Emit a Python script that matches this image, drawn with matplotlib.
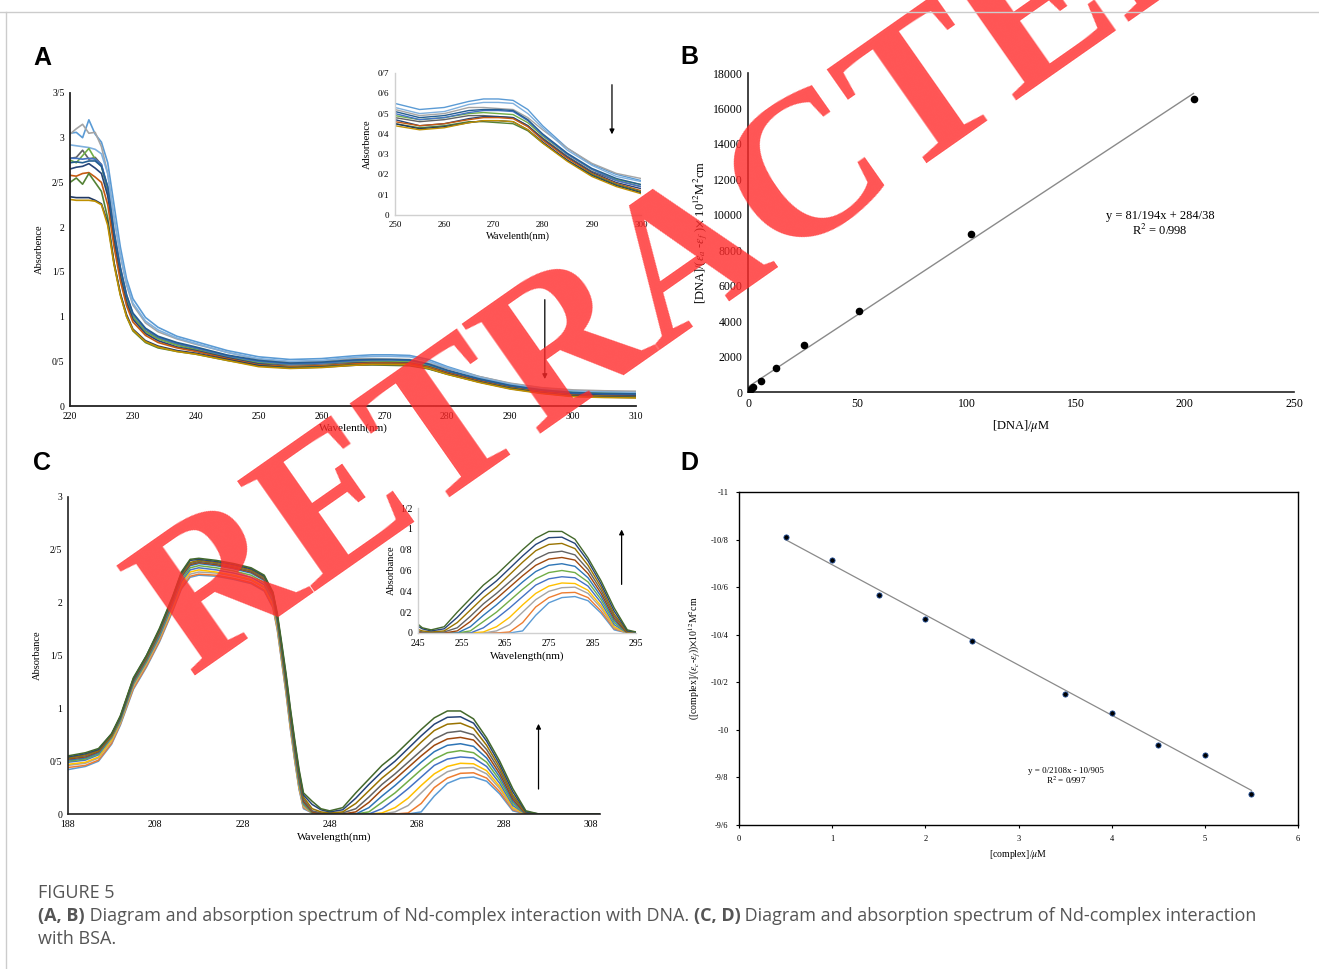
import numpy as np
import matplotlib
matplotlib.use("Agg")
import matplotlib.pyplot as plt
from matplotlib.ticker import FuncFormatter, MultipleLocator, FixedLocator
from matplotlib.lines import Line2D

plt.rcParams['font.family'] = ['Liberation Serif', 'DejaVu Serif']
plt.rcParams['mathtext.fontset'] = 'stix'

W, H = 1319, 969

# ---------------- data ----------------
# panel A: absorption spectra (DNA titration), 12 curves
wl_a = [220, 221, 222, 223, 224, 225, 226, 227, 228, 229, 230, 232, 234, 237, 240, 245,
        250, 255, 260, 265, 268, 271, 274, 277, 280, 285, 290, 295, 300, 305, 310]
colors_a = ['#5B9BD5', '#A5A5A5', '#7FB0DE', '#636363', '#70AD47', '#4472C4',
            '#264478', '#C55A11', '#548235', '#203864', '#BF9000', '#255E91']
abs_a = [
    [3.05, 3.06, 3.00, 3.20, 3.04, 2.95, 2.72, 2.25, 1.78, 1.42, 1.20, 0.99, 0.88, 0.78, 0.72, 0.62,
     0.55, 0.52, 0.53, 0.56, 0.572, 0.572, 0.565, 0.52, 0.44, 0.33, 0.25, 0.20, 0.17, 0.16, 0.155],
    [3.04, 3.10, 3.15, 3.05, 3.06, 2.90, 2.60, 2.10, 1.68, 1.35, 1.13, 0.93, 0.83, 0.75, 0.69, 0.60,
     0.52, 0.49, 0.50, 0.53, 0.53, 0.525, 0.52, 0.48, 0.42, 0.33, 0.255, 0.205, 0.18, 0.17, 0.165],
    [2.92, 2.91, 2.90, 2.89, 2.87, 2.82, 2.60, 2.12, 1.70, 1.37, 1.15, 0.95, 0.85, 0.76, 0.70, 0.60,
     0.53, 0.50, 0.51, 0.545, 0.555, 0.555, 0.55, 0.50, 0.43, 0.32, 0.245, 0.19, 0.165, 0.155, 0.15],
    [2.77, 2.78, 2.86, 2.76, 2.78, 2.70, 2.40, 1.90, 1.50, 1.20, 1.00, 0.84, 0.76, 0.69, 0.64, 0.56,
     0.48, 0.46, 0.47, 0.49, 0.49, 0.485, 0.48, 0.44, 0.38, 0.29, 0.215, 0.17, 0.14, 0.13, 0.125],
    [2.75, 2.72, 2.80, 2.88, 2.76, 2.68, 2.42, 1.90, 1.50, 1.20, 1.00, 0.83, 0.75, 0.68, 0.63, 0.55,
     0.49, 0.47, 0.48, 0.50, 0.505, 0.50, 0.495, 0.455, 0.39, 0.30, 0.225, 0.175, 0.15, 0.14, 0.135],
    [2.77, 2.77, 2.76, 2.77, 2.76, 2.70, 2.45, 1.95, 1.55, 1.24, 1.03, 0.86, 0.77, 0.70, 0.65, 0.56,
     0.50, 0.47, 0.48, 0.505, 0.515, 0.515, 0.51, 0.465, 0.395, 0.30, 0.225, 0.17, 0.14, 0.13, 0.125],
    [2.65, 2.67, 2.68, 2.71, 2.66, 2.60, 2.35, 1.85, 1.45, 1.16, 0.97, 0.81, 0.73, 0.66, 0.62, 0.54,
     0.47, 0.44, 0.45, 0.475, 0.485, 0.485, 0.48, 0.44, 0.375, 0.285, 0.21, 0.16, 0.13, 0.12, 0.115],
    [2.58, 2.57, 2.60, 2.61, 2.56, 2.50, 2.25, 1.78, 1.40, 1.12, 0.94, 0.79, 0.71, 0.65, 0.61, 0.53,
     0.46, 0.44, 0.45, 0.47, 0.48, 0.48, 0.475, 0.435, 0.37, 0.28, 0.205, 0.155, 0.12, 0.11, 0.105],
    [2.50, 2.55, 2.48, 2.60, 2.50, 2.40, 2.10, 1.60, 1.25, 1.00, 0.84, 0.71, 0.65, 0.61, 0.58, 0.51,
     0.45, 0.43, 0.44, 0.46, 0.46, 0.455, 0.45, 0.415, 0.355, 0.27, 0.20, 0.15, 0.115, 0.105, 0.10],
    [2.34, 2.33, 2.33, 2.33, 2.30, 2.26, 2.05, 1.60, 1.26, 1.02, 0.86, 0.73, 0.67, 0.62, 0.59, 0.52,
     0.45, 0.425, 0.435, 0.455, 0.465, 0.465, 0.46, 0.42, 0.36, 0.27, 0.195, 0.145, 0.11, 0.10, 0.095],
    [2.31, 2.30, 2.30, 2.30, 2.29, 2.25, 2.02, 1.58, 1.24, 1.00, 0.85, 0.72, 0.66, 0.61, 0.58, 0.51,
     0.44, 0.42, 0.43, 0.455, 0.465, 0.465, 0.46, 0.42, 0.355, 0.265, 0.19, 0.14, 0.105, 0.095, 0.09],
    [2.72, 2.73, 2.72, 2.74, 2.74, 2.68, 2.45, 1.95, 1.55, 1.24, 1.04, 0.87, 0.78, 0.71, 0.66, 0.57,
     0.51, 0.48, 0.49, 0.515, 0.52, 0.52, 0.515, 0.47, 0.40, 0.305, 0.23, 0.18, 0.15, 0.14, 0.135],
]

# panel B: [DNA]/(ea-ef) vs [DNA]
dna_x = [0.4, 1.2, 2.5, 6, 13, 25.5, 51, 102, 204]
dna_y = [80, 180, 260, 640, 1350, 2680, 4560, 8920, 16560]
fit_b = (81.194, 284.38)

# panel C: absorption spectra (BSA titration), 12 curves, lowest first
wl_c = [188, 192, 195, 198, 200, 203, 206, 209, 212, 214, 216, 218, 222, 226, 230, 233, 235, 236,
        237, 238, 239, 240, 241, 242,
        244, 246, 248, 251, 254, 257, 260, 263, 266, 269, 272, 275, 278, 281, 284, 287, 290, 293, 296, 310]
colors_c = ['#5B9BD5', '#ED7D31', '#A5A5A5', '#FFC000', '#4472C4', '#70AD47',
            '#2E75B6', '#9E480E', '#636363', '#997300', '#264478', '#43682B']
abs_c = [
    [0.42, 0.45, 0.50, 0.66, 0.84, 1.18, 1.39, 1.63, 1.92, 2.13, 2.24, 2.26, 2.25, 2.22, 2.18, 2.11, 1.95, 1.74,
     1.44, 1.14, 0.80, 0.50, 0.23, 0.05,
     0.01, 0, 0, 0, 0, 0, 0, 0, 0, 0.02, 0.17, 0.29, 0.34, 0.35, 0.31, 0.19, 0.03, 0, 0, 0],
    [0.44, 0.46, 0.51, 0.67, 0.85, 1.19, 1.40, 1.64, 1.93, 2.14, 2.25, 2.27, 2.26, 2.23, 2.19, 2.12, 1.96, 1.75,
     1.45, 1.15, 0.81, 0.51, 0.24, 0.06,
     0.01, 0, 0, 0, 0, 0, 0, 0, 0.01, 0.10, 0.25, 0.34, 0.385, 0.39, 0.34, 0.21, 0.04, 0, 0, 0],
    [0.46, 0.48, 0.53, 0.69, 0.86, 1.21, 1.42, 1.66, 1.95, 2.16, 2.27, 2.29, 2.28, 2.25, 2.21, 2.14, 1.98, 1.77,
     1.47, 1.17, 0.83, 0.53, 0.25, 0.07,
     0.01, 0, 0, 0, 0, 0, 0, 0.02, 0.08, 0.20, 0.32, 0.40, 0.435, 0.44, 0.38, 0.24, 0.05, 0, 0, 0],
    [0.47, 0.49, 0.54, 0.70, 0.87, 1.22, 1.43, 1.67, 1.96, 2.18, 2.29, 2.31, 2.29, 2.26, 2.22, 2.15, 1.99, 1.78,
     1.48, 1.18, 0.84, 0.54, 0.26, 0.08,
     0.01, 0, 0, 0, 0, 0, 0.01, 0.06, 0.15, 0.27, 0.38, 0.45, 0.48, 0.475, 0.41, 0.26, 0.06, 0, 0, 0],
    [0.49, 0.51, 0.56, 0.72, 0.88, 1.23, 1.44, 1.68, 1.98, 2.20, 2.31, 2.33, 2.31, 2.28, 2.24, 2.17, 2.01, 1.80,
     1.50, 1.20, 0.86, 0.56, 0.28, 0.09,
     0.01, 0, 0, 0, 0, 0, 0.05, 0.14, 0.24, 0.35, 0.46, 0.52, 0.54, 0.53, 0.45, 0.29, 0.08, 0, 0, 0],
    [0.50, 0.52, 0.57, 0.73, 0.89, 1.24, 1.45, 1.70, 2.00, 2.22, 2.33, 2.35, 2.33, 2.30, 2.26, 2.19, 2.03, 1.82,
     1.52, 1.22, 0.88, 0.58, 0.30, 0.10,
     0.01, 0, 0, 0, 0, 0.02, 0.11, 0.20, 0.31, 0.42, 0.52, 0.58, 0.60, 0.58, 0.49, 0.32, 0.10, 0, 0, 0],
    [0.51, 0.53, 0.58, 0.74, 0.90, 1.25, 1.46, 1.71, 2.01, 2.24, 2.35, 2.37, 2.35, 2.32, 2.28, 2.21, 2.05, 1.84,
     1.54, 1.24, 0.90, 0.60, 0.32, 0.11,
     0.02, 0, 0, 0, 0, 0.06, 0.17, 0.27, 0.38, 0.49, 0.59, 0.65, 0.665, 0.64, 0.53, 0.35, 0.12, 0, 0, 0],
    [0.52, 0.54, 0.59, 0.74, 0.91, 1.26, 1.47, 1.72, 2.02, 2.25, 2.36, 2.38, 2.36, 2.33, 2.29, 2.22, 2.06, 1.85,
     1.55, 1.25, 0.92, 0.62, 0.34, 0.12,
     0.02, 0, 0, 0, 0.02, 0.11, 0.23, 0.33, 0.44, 0.55, 0.65, 0.71, 0.725, 0.70, 0.57, 0.38, 0.14, 0, 0, 0],
    [0.53, 0.55, 0.60, 0.75, 0.91, 1.27, 1.48, 1.73, 2.03, 2.26, 2.37, 2.39, 2.37, 2.34, 2.30, 2.23, 2.07, 1.86,
     1.57, 1.27, 0.94, 0.64, 0.36, 0.14,
     0.03, 0.01, 0, 0.01, 0.05, 0.16, 0.28, 0.38, 0.49, 0.60, 0.71, 0.77, 0.785, 0.75, 0.61, 0.41, 0.16, 0.01, 0, 0],
    [0.53, 0.56, 0.60, 0.75, 0.92, 1.28, 1.49, 1.74, 2.04, 2.27, 2.38, 2.40, 2.38, 2.35, 2.31, 2.24, 2.08, 1.87,
     1.58, 1.29, 0.96, 0.66, 0.38, 0.16,
     0.05, 0.02, 0.01, 0.02, 0.10, 0.22, 0.34, 0.44, 0.56, 0.68, 0.79, 0.85, 0.86, 0.81, 0.65, 0.44, 0.18, 0.01, 0, 0],
    [0.54, 0.57, 0.61, 0.76, 0.92, 1.28, 1.50, 1.75, 2.05, 2.28, 2.40, 2.41, 2.39, 2.36, 2.32, 2.25, 2.09, 1.88,
     1.60, 1.31, 0.98, 0.68, 0.40, 0.18,
     0.09, 0.04, 0.02, 0.04, 0.15, 0.28, 0.40, 0.50, 0.62, 0.74, 0.85, 0.915, 0.92, 0.86, 0.69, 0.47, 0.21, 0.02, 0, 0],
    [0.55, 0.58, 0.62, 0.76, 0.93, 1.29, 1.50, 1.76, 2.06, 2.29, 2.41, 2.42, 2.40, 2.37, 2.33, 2.26, 2.10, 1.90,
     1.62, 1.33, 1.00, 0.70, 0.42, 0.20,
     0.12, 0.05, 0.03, 0.06, 0.20, 0.33, 0.46, 0.56, 0.68, 0.80, 0.91, 0.975, 0.975, 0.90, 0.72, 0.50, 0.24, 0.03, 0, 0],
]
ticks_c = [188, 208, 228, 248, 268, 288, 308]
ticks_ci = [245, 255, 265, 275, 285, 295]

# panel D
cpx_x = [0.5, 1, 1.5, 2, 2.5, 3.5, 4, 4.5, 5, 5.5]
cpx_y = [-10.809, -10.715, -10.568, -10.467, -10.372, -10.151, -10.069, -9.938, -9.893, -9.731]
fit_d = (0.2108, -10.905)

caption_title = "FIGURE 5"
caption_line1 = [("(A, B)", True), (" Diagram and absorption spectrum of Nd-complex interaction with DNA. ", False),
                 ("(C, D)", True), (" Diagram and absorption spectrum of Nd-complex interaction", False)]
caption_line2 = "with BSA."


# ---------------- helpers ----------------
def px_axes(fig, x0, y0, x1, y1):
    return fig.add_axes([x0 / W, 1 - y1 / H, (x1 - x0) / W, (y1 - y0) / H])


slash = FuncFormatter(lambda v, p: f"{round(v, 3):g}".replace(".", "/"))


def excel_style(ax, spine_color='black', lw=1.0, fs=7):
    for s in ['top', 'right']:
        ax.spines[s].set_visible(False)
    for s in ['left', 'bottom']:
        ax.spines[s].set_color(spine_color)
        ax.spines[s].set_linewidth(lw)
    ax.tick_params(length=0, labelsize=fs, pad=4)
    ax.patch.set_alpha(0)


fig = plt.figure(figsize=(W / 100, H / 100), dpi=100)

# frame lines of the page
fig.add_artist(Line2D([0, 1], [1 - 12 / H] * 2, color='#cccccc', lw=1, transform=fig.transFigure, zorder=60))
fig.add_artist(Line2D([6 / W] * 2, [0, 1 - 12 / H], color='#cccccc', lw=1, transform=fig.transFigure, zorder=60))

# ---------------- A ----------------
axA = px_axes(fig, 70, 93, 636, 406)
for ys, c in zip(abs_a, colors_a):
    axA.plot(wl_a, ys, color=c, lw=1.2)
axA.set_xlim(220, 310)
axA.set_ylim(0, 3.5)
axA.xaxis.set_major_locator(MultipleLocator(10))
axA.yaxis.set_major_locator(MultipleLocator(0.5))
axA.yaxis.set_major_formatter(slash)
excel_style(axA, '#222222', 1.3)
axA.set_xlabel("Wavelenth(nm)", fontsize=8, labelpad=2)
axA.set_ylabel("Absorbence", fontsize=7.5, labelpad=6)
axA.annotate("", xy=(295.5, 0.27), xytext=(295.5, 1.22),
             arrowprops=dict(arrowstyle='-|>', color='black', lw=0.9, mutation_scale=7))

axAi = px_axes(fig, 395, 73, 641, 215)
for ys, c in zip(abs_a, colors_a):
    axAi.plot(wl_a, ys, color=c, lw=1.0)
axAi.set_xlim(250, 300)
axAi.set_ylim(0, 0.7)
axAi.xaxis.set_major_locator(MultipleLocator(10))
axAi.yaxis.set_major_locator(MultipleLocator(0.1))
axAi.yaxis.set_major_formatter(slash)
excel_style(axAi, '#d0d0d0', 1.0, 6.5)
axAi.set_xlabel("Wavelenth(nm)", fontsize=7.5, labelpad=2)
axAi.set_ylabel("Adsorbence", fontsize=7.5, labelpad=4)
axAi.annotate("", xy=(294.1, 0.384), xytext=(294.1, 0.656),
              arrowprops=dict(arrowstyle='-|>', color='black', lw=0.9, mutation_scale=7))

# ---------------- B ----------------
axB = px_axes(fig, 748, 73, 1294, 392)
xf = np.array([0, max(dna_x)])
axB.plot(xf, fit_b[0] * xf + fit_b[1], color='#8a8a8a', lw=1.0)
axB.scatter(dna_x, dna_y, s=20, color='black', zorder=3)
axB.set_xlim(0, 250)
axB.set_ylim(0, 18000)
axB.xaxis.set_major_locator(MultipleLocator(50))
axB.yaxis.set_major_locator(MultipleLocator(2000))
excel_style(axB, '#222222', 1.2, 8.5)
axB.set_xlabel(r"[DNA]/$\mu$M", fontsize=9, labelpad=6)
axB.set_ylabel(r"[DNA]/($\epsilon_a$ -$\epsilon_f$ )$\times$ 10$^{12}$M$^2$cm", fontsize=9, labelpad=2)
axB.text(0.755, 0.527, "y = 81/194x + 284/38\nR$^2$ = 0/998", transform=axB.transAxes,
         ha='center', va='center', fontsize=9, linespacing=1.1)

# ---------------- C ----------------
axC = px_axes(fig, 68, 497, 600, 814)
for ys, c in zip(abs_c, colors_c):
    axC.plot(wl_c, ys, color=c, lw=1.1)
axC.set_xlim(188, 310)
axC.set_ylim(0, 3)
axC.xaxis.set_major_locator(FixedLocator(ticks_c))
axC.yaxis.set_major_locator(MultipleLocator(0.5))
axC.yaxis.set_major_formatter(slash)
excel_style(axC, '#222222', 1.2)
axC.set_xlabel("Wavelength(nm)", fontsize=8, labelpad=3)
axC.set_ylabel("Absorbance", fontsize=7.5, labelpad=6)
axC.annotate("", xy=(295.9, 0.88), xytext=(295.9, 0.21),
             arrowprops=dict(arrowstyle='-|>', color='black', lw=0.9, mutation_scale=7))

axCi = px_axes(fig, 418, 508, 636, 633)
for ys, c in zip(abs_c, colors_c):
    axCi.plot(wl_c, ys, color=c, lw=1.0)
axCi.set_xlim(245, 295)
axCi.set_ylim(0, 1.2)
axCi.xaxis.set_major_locator(FixedLocator(ticks_ci))
axCi.yaxis.set_major_locator(MultipleLocator(0.2))
axCi.yaxis.set_major_formatter(slash)
excel_style(axCi, '#d0d0d0', 1.0, 7)
axCi.set_xlabel("Wavelength(nm)", fontsize=8, labelpad=3)
axCi.set_ylabel("Absorbance", fontsize=7.5, labelpad=3)
axCi.annotate("", xy=(291.7, 1.02), xytext=(291.7, 0.44),
              arrowprops=dict(arrowstyle='-|>', color='black', lw=0.9, mutation_scale=7))

# ---------------- D ----------------
axD = px_axes(fig, 739, 492, 1298, 825)
xd = np.array([min(cpx_x), max(cpx_x)])
axD.plot(xd, fit_d[0] * xd + fit_d[1], color='#8a8a8a', lw=0.9)
axD.scatter(cpx_x, cpx_y, s=14, color='black', edgecolor='#1f4e99', linewidth=0.6, zorder=3)
axD.set_xlim(0, 6)
axD.set_ylim(-9.6, -11)
axD.xaxis.set_major_locator(MultipleLocator(1))
axD.yaxis.set_major_locator(MultipleLocator(0.2))
axD.yaxis.set_major_formatter(FuncFormatter(lambda v, p: f"{round(v, 2):g}".replace(".", "/")))
for s in axD.spines.values():
    s.set_linewidth(1.0)
axD.tick_params(length=2.5, width=0.8, labelsize=6, pad=5)
axD.set_xlabel(r"[complex]/$\mu$M", fontsize=7, labelpad=3)
axD.set_ylabel(r"([complex]/($\epsilon_c$-$\epsilon_f$))$\times$10$^{12}$M$^2$cm", fontsize=7, labelpad=6)
axD.text(0.585, 0.145, "y = 0/2108x - 10/905\nR$^2$ = 0/997", transform=axD.transAxes,
         ha='center', va='center', fontsize=6.5, linespacing=1.0)

# panel letters
for lab, x, y in [("A", 33, 65), ("B", 680, 64), ("C", 33, 470), ("D", 680, 470)]:
    fig.text(x / W, 1 - y / H, lab, family='Liberation Sans', fontweight='bold', fontsize=18,
             ha='left', va='baseline')

# caption
cap_kw = dict(family='Open Sans', fontsize=12.95, color='#555555', va='baseline')
fig.text(38 / W, 1 - 898 / H, caption_title, **cap_kw)
fig.canvas.draw()
r = fig.canvas.get_renderer()
xpos = 38 / W
for s, b in caption_line1:
    t = fig.text(xpos, 1 - 921 / H, s, fontweight='bold' if b else 'normal', **cap_kw)
    xpos += t.get_window_extent(r).width / W
fig.text(38 / W, 1 - 944 / H, caption_line2, **cap_kw)

# watermark
fig.text(690 / W, 1 - 266 / H, "RETRACTED", family='Liberation Serif', fontweight='bold', fontsize=148,
         color='#ff2a2a', alpha=0.8, rotation=35, rotation_mode='anchor',
         ha='center', va='center', zorder=50)

fig.savefig("out.png", dpi=100)
